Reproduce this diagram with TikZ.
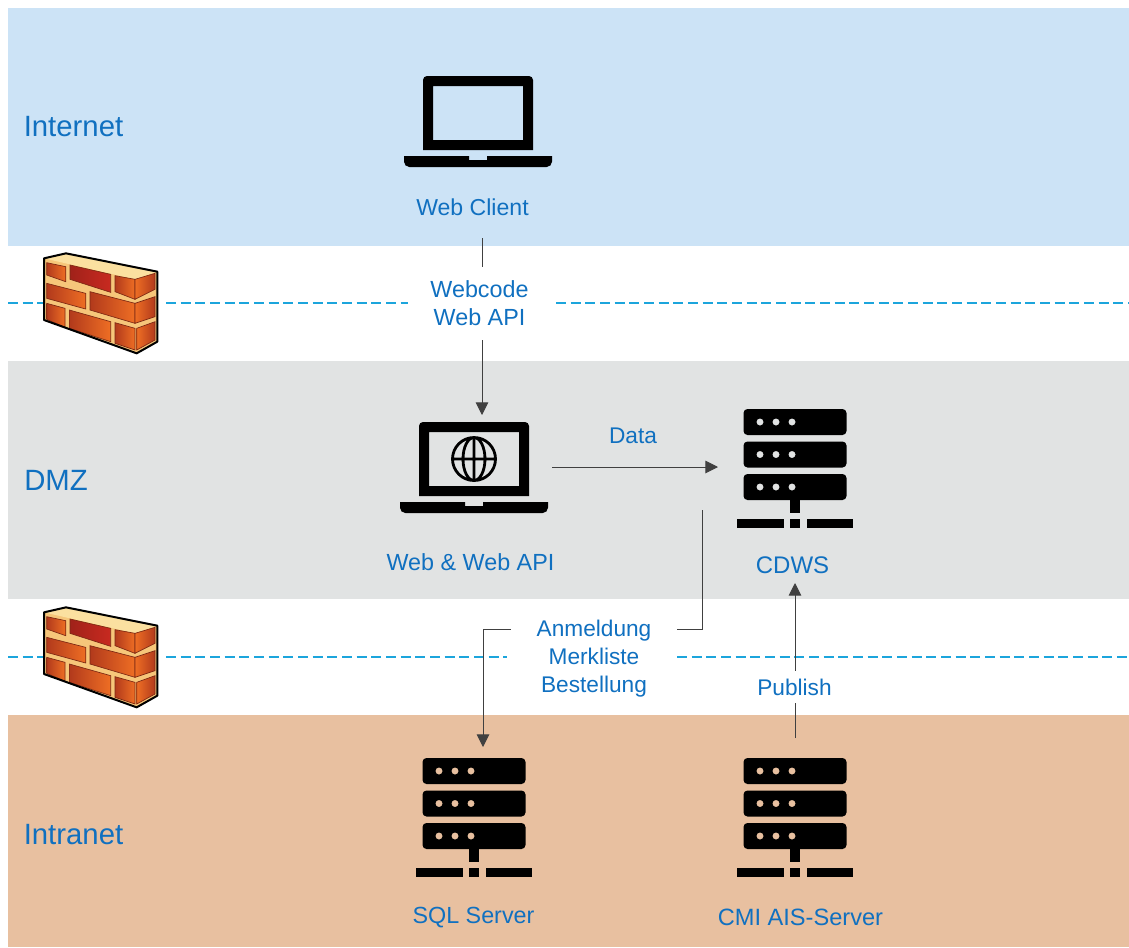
\documentclass[tikz,border=0pt]{standalone}
\usepackage{fontspec}
\setmainfont{Liberation Sans}
\usetikzlibrary{arrows.meta}
\definecolor{bandnet}{HTML}{CCE3F6}
\definecolor{banddmz}{HTML}{E1E3E3}
\definecolor{bandint}{HTML}{E8C0A0}
\definecolor{labelblue}{HTML}{1070C0}
\definecolor{dashblue}{HTML}{1CA5DC}
\definecolor{linegray}{HTML}{404040}
\definecolor{mortar}{HTML}{F6C67A}
\definecolor{wallcap}{HTML}{FBE0A0}
\definecolor{brickdark}{HTML}{B23A1C}
\definecolor{brickmid}{HTML}{D9481E}
\definecolor{brickred}{HTML}{C82A20}
\definecolor{bricklight}{HTML}{EE6E24}
\tikzset{%
  tipA/.tip={Triangle[width=9.5pt,length=9.5pt]},
  zone/.style={font=\fontsize{22}{26}\selectfont,text=labelblue,anchor=west,inner sep=0pt},
  lbl/.style={font=\fontsize{#1}{21}\selectfont,text=labelblue,align=center,inner sep=0pt},
  lbl/.default=17.5,
  conn/.style={color=linegray,line width=.7pt},
  fwline/.style={color=dashblue,line width=1.2pt,dash pattern=on 7.5pt off 3.5pt},
  brick/.style={left color=brickdark,right color=bricklight,draw=brickdark!70!black,line width=.5pt},
  brickside/.style={left color=bricklight,right color=brickdark,draw=brickdark!70!black,line width=.5pt},
  laptopbody/.pic={
    \fill[even odd rule] (-55,37) [rounded corners=3pt] -- (-55,-37) -- (55,-37) [sharp corners] -- (55,37) -- cycle
      (-45,27) rectangle (45,-27);
    \fill (-74,43) -- (-9,43) -- (-9,47) -- (9,47) -- (9,43) -- (74,43)
      [rounded corners=4pt] -- (74,54) -- (-74,54) [sharp corners] -- cycle;
  },
  serverbody/.pic={
    \foreach \y in {-32,.5,33}{
      \fill[even odd rule] [rounded corners=3pt] (-51.5,\y-13) rectangle (51.5,\y+13)
        (-35,\y) circle (3.6) (-19,\y) circle (3.6) (-3,\y) circle (3.6);
    }
    \fill (-5,45) rectangle (5,59);
    \fill (-58,65) rectangle (-11,74);
    \fill (-5,65) rectangle (5,74);
    \fill (12,65) rectangle (58,74);
  },
  brickwall/.pic={
    \begin{scope}[x=.25pt,y=-.25pt]
    \fill[mortar] (72,55) -- (138,40) -- (412,95) -- (412,305) -- (350,340) -- (72,240) -- cycle;
    \fill[wallcap] (72,55) -- (138,40) -- (412,95) -- (345,118) -- cycle;
    % front bricks
    \shadedraw[brick] (80,68) -- (137,80) -- (137,125) -- (80,105) -- cycle;
    \shadedraw[brick,right color=brickred,left color=brickred!80!black] (150,75) -- (272,103) -- (272,157) -- (150,118) -- cycle;
    \shadedraw[brick] (285,107) -- (345,118) -- (345,178) -- (285,155) -- cycle;
    \shadedraw[brick] (80,130) -- (197,160) -- (197,207) -- (80,175) -- cycle;
    \shadedraw[brick] (210,155) -- (345,190) -- (345,250) -- (210,210) -- cycle;
    \shadedraw[brick] (80,190) -- (135,205) -- (135,262) -- (80,238) -- cycle;
    \shadedraw[brick] (148,210) -- (272,245) -- (272,305) -- (148,265) -- cycle;
    \shadedraw[brick] (285,248) -- (345,265) -- (345,330) -- (285,310) -- cycle;
    % side bricks
    \shadedraw[brickside] (345,118) -- (405,100) -- (405,148) -- (345,178) -- cycle;
    \shadedraw[brickside] (345,190) -- (405,170) -- (405,230) -- (345,250) -- cycle;
    \shadedraw[brickside] (350,265) -- (405,245) -- (405,300) -- (350,330) -- cycle;
    \draw[line width=1.5pt,line join=round] (72,55) -- (138,40) -- (412,95) -- (412,305) -- (350,340) -- (72,240) -- cycle;
    \end{scope}
  },
}
\begin{document}
\begin{tikzpicture}[x=.75pt,y=-.75pt]
\useasboundingbox (0,0) rectangle (1129,947);
\fill[bandnet] (8,8) rectangle (1129,246);
\fill[banddmz] (8,361) rectangle (1129,599);
\fill[bandint] (8,715) rectangle (1129,947);
\node[zone] (internet) at (23.5,127) {Internet};
\node[zone] (dmz) at (24,480) {DMZ};
\node[zone] (intranet) at (23.5,835) {Intranet};
% firewalls
\draw[fwline] (8,303) -- (45,303);
\draw[fwline] (166,303) -- (408,303);
\draw[fwline] (556,303) -- (1129,303);
\draw[fwline] (8,657) -- (45,657);
\draw[fwline] (166,657) -- (507,657);
\draw[fwline] (677,657) -- (1129,657);
\pic at (20,240) {brickwall};
\pic at (20,594) {brickwall};
% icons
\pic at (478,113) {laptopbody};
\pic at (474,459) {laptopbody};
\draw[line width=2.1pt] (474,459) circle (21.5) (474,459) ellipse (11 and 21.5)
  (452,459) -- (496,459) (474,437) -- (474,481);
\pic at (795,454) {serverbody};
\pic at (474,803) {serverbody};
\pic at (795,803) {serverbody};
% labels
\node[lbl=17.3] (webclient) at (472.5,207.5) {Web Client};
\node[lbl] (webapi) at (470.5,562.5) {Web \& Web API};
\node[lbl=18] (cdws) at (792.5,565) {CDWS};
\node[lbl] (sqlserver) at (473.5,918) {SQL Server};
\node[lbl=17.7] (cmiserver) at (800.5,917) {CMI AIS-Server};
\node[lbl=17] (data) at (633,435.5) {Data};
\node[lbl,minimum height=55pt] (webcode) at (479.5,303.5) {Webcode\\Web API};
\node[lbl=17,minimum width=124.5pt] (merkliste) at (594,659) {Anmeldung\\Merkliste\\Bestellung};
\node[lbl=17,minimum height=24pt] (publish) at (794.5,687) {Publish};
% connectors
\coordinate (clientout) at (482,238);
\coordinate (webin) at (482,415);
\coordinate (webout) at (552,467);
\coordinate (cdwsin) at (718,467);
\coordinate (cdwsdown) at (702,510);
\coordinate (anm) at (594,629);
\coordinate (sqlin) at (483,747);
\coordinate (cmiout) at (795,738);
\coordinate (cdwslbl) at (795,583);
\draw[conn] (clientout) -- (clientout |- webcode.north);
\draw[conn,-tipA] (clientout |- webcode.south) -- (webin);
\draw[conn,-tipA] (webout) -- (cdwsin);
\draw[conn] (cdwsdown) |- (anm -| merkliste.east);
\draw[conn,-tipA] (anm -| merkliste.west) -| (sqlin);
\draw[conn] (cmiout) -- (cmiout |- publish.south);
\draw[conn,-tipA] (cmiout |- publish.north) -- (cdwslbl);
\end{tikzpicture}
\end{document}
